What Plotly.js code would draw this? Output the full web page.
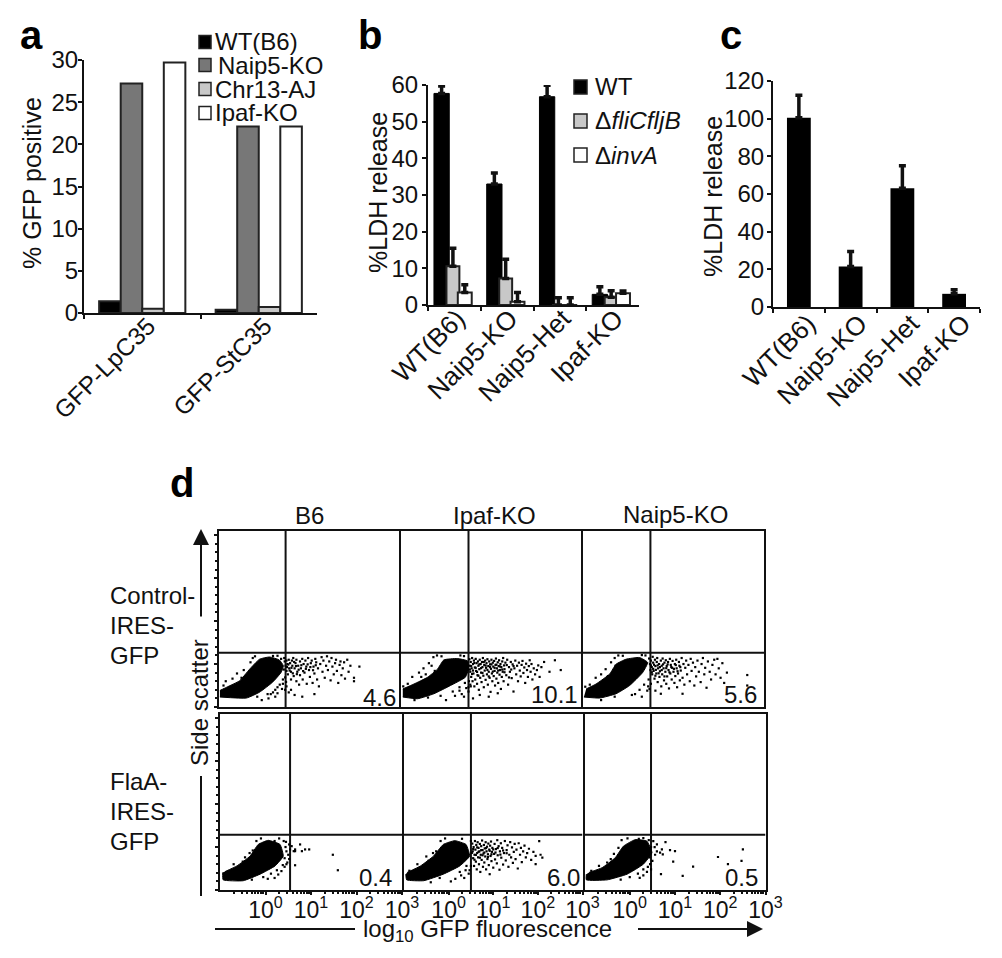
<!DOCTYPE html>
<html><head><meta charset="utf-8">
<script src="https://cdn.plot.ly/plotly-3.0.1.min.js"></script>
<style>html,body{margin:0;padding:0;background:#fff}</style></head>
<body><div id="chart" style="width:1002px;height:958px"></div>
<script>
// ---------- panel a ----------
const aCats = ['GFP-LpC35','GFP-StC35'];
const aNames = ['WT(B6)','Naip5-KO','Chr13-AJ','Ipaf-KO'];
const aWT = [1.4,0.4];
const aNaip = [27.2,22.1];
const aChr = [0.5,0.7];
const aIpaf = [29.7,22.1];
// ---------- panel b ----------
const bCats = ['WT(B6)','Naip5-KO','Naip5-Het','Ipaf-KO'];
const bWT = [57.7,33,56.8,2.9];
const bWTErr = [2,3,3.1,2.1];
const bFli = [10.6,7.2,0,2.1];
const bFliErr = [4.9,5.3,2,1.8];
const bInv = [3.4,0.9,0,3.2];
const bInvErr = [2.1,2.5,2,0.6];
// ---------- panel c ----------
const cCats = ['WT(B6)','Naip5-KO','Naip5-Het','Ipaf-KO'];
const cVals = [100.5,21.5,63,7];
const cErr = [12,8,12,2.2];
// ---------- panel d: x = log10 GFP, y = side scatter; blob = outline of the solid population ----------
const dTickLabels = ['10<sup>0</sup>','10<sup>1</sup>','10<sup>2</sup>','10<sup>3</sup>'];
const dPercents = ['4.6','10.1','5.6','0.4','6.0','0.5'];
const dColumns = ['B6','Ipaf-KO','Naip5-KO'];
const gateX = [0.48,0.50,0.49,0.54,0.50,0.47];
const gateY = [316,316,316,322,322,322];
const blobB6C = [[-.98,58],[-.39,52],[-.1,86],[.19,144],[.38,201],[.43,240],[.34,274],[.12,291],[-.1,278],[-.32,220],[-.54,153],[-.83,115],[-.98,96]];
const blobIpC = [[-.96,58],[-.63,48],[-.27,77],[.1,125],[.43,173],[.5,220],[.48,268],[.25,282],[-.05,274],[-.19,220],[-.41,173],[-.71,134],[-.96,105]];
const blobNaC = [[-.98,58],[-.63,52],[-.27,77],[.03,125],[.32,201],[.43,259],[.25,288],[-.05,278],[-.27,249],[-.41,192],[-.71,134],[-.93,105]];
const blobB6F = [[-.94,102],[-.93,59],[-.49,54],[-.12,92],[.21,140],[.39,197],[.32,265],[.06,289],[-.16,265],[-.34,197],[-.63,140],[-.89,107]];
const blobIpF = [[-.96,92],[-.94,59],[-.56,54],[-.12,92],[.25,140],[.47,197],[.39,265],[.14,287],[-.12,265],[-.34,197],[-.63,140],[-.93,102]];
const blobNaF = [[-.96,92],[-.96,59],[-.5,59],[-.06,92],[.3,150],[.49,217],[.38,284],[.12,293],[-.14,255],[-.32,188],[-.61,130],[-.9,102]];
const dotsB6C = [[.46,265],[.48,240],[.5,270],[.5,210],[.52,250],[.53,190],[.55,275],[.56,225],[.58,255],[.6,205],[.6,160],[.62,270],[.63,240],[.65,285],[.66,180],[.68,225],[.7,255],[.72,275],[.72,150],[.74,205],[.76,240],[.78,130],[.8,265],[.8,185],[.82,225],[.85,280],[.86,160],[.88,250],[.9,200],[.92,270],[.94,235],[.95,135],[.98,285],[1,215],[1.02,175],[1.04,255],[1.06,270],[1.08,140],[1.1,235],[1.12,195],[1.14,280],[1.16,260],[1.18,160],[1.2,225],[1.22,120],[1.25,250],[1.28,290],[1.3,205],[1.32,270],[1.35,170],[1.38,240],[1.4,295],[1.42,215],[1.45,265],[1.48,155],[1.5,285],[1.52,235],[1.55,190],[1.58,255],[1.6,275],[1.62,210],[1.65,140],[1.68,245],[1.7,265],[1.72,185],[1.75,225],[1.78,260],[1.8,165],[1.85,275],[1.88,205],[1.92,240],[.55,85],[.68,70],[.85,60],[1.12,75],[2.12,235],[2,170],[2,150],[.5,120],[.47,100],[.6,100],[-.6,195],[-.45,215],[-.3,260],[-.25,285],[-.2,295],[-.15,240],[-.7,165],[-.85,150],[.1,50],[.15,75],[.25,100],[.3,80],[.35,130],[.4,105],[.42,160],[.25,60],[-.05,40],[-.9,125],
  [.51,232],[.54,247],[.57,212],[.61,228],[.64,196],[.67,262],[.71,238],[.73,191],[.77,217],[.83,243],[.87,209],[.93,222],[.97,248],[1.03,232],[1.09,214],[1.15,243],[.44,218],[.47,172],[.49,146],[.45,285],[.3,298],[.38,280],[.2,297],[-.35,180],[-.2,215],[-.5,170],[-.4,165],[.42,135],[.3,115],[.2,85],[.08,75],[-.15,60],[-.3,70]];
const dotsIpC = [[.52,278],[.53,240],[.54,205],[.55,262],[.56,175],[.57,225],[.58,285],[.59,150],[.6,250],[.61,195],[.62,270],[.63,120],[.64,230],[.65,160],[.66,280],[.67,210],[.68,255],[.69,135],[.7,185],[.71,265],[.72,240],[.73,100],[.74,220],[.75,275],[.76,170],[.77,250],[.78,200],[.79,145],[.8,262],[.81,232],[.82,285],[.83,182],[.84,115],[.85,245],[.86,212],[.87,270],[.88,158],[.89,228],[.9,255],[.91,190],[.92,278],[.93,130],[.94,238],[.95,205],[.96,265],[.97,170],[.98,248],[.99,88],[1,222],[1.01,275],[1.02,195],[1.03,150],[1.04,258],[1.05,235],[1.06,180],[1.07,268],[1.08,210],[1.09,125],[1.1,245],[1.11,282],[1.12,165],[1.13,225],[1.14,200],[1.15,260],[1.16,140],[1.17,238],[1.18,272],[1.19,188],[1.2,215],[1.21,250],[1.22,105],[1.23,232],[1.24,175],[1.25,265],[1.26,205],[1.27,285],[1.28,150],[1.29,242],[1.3,220],[1.32,258],[1.34,185],[1.36,275],[1.38,130],[1.4,232],[1.42,205],[1.44,262],[1.46,168],[1.48,248],[1.5,90],[1.52,225],[1.54,270],[1.56,190],[1.58,240],[1.6,150],[1.62,258],[1.64,212],[1.66,178],[1.68,245],[1.7,268],[1.72,198],[1.74,230],[1.76,140],[1.78,252],[1.8,215],[1.82,175],[1.84,238],[1.86,272],[1.88,205],[1.9,250],[1.92,160],[1.95,225],[1.98,190],[2.02,215],[2.05,242],[2.08,175],[2.12,232],[2.18,262],[2.3,205],[2.42,272],[2.55,215],[-.75,175],[-.6,200],[-.5,225],[-.38,255],[-.28,290],[-.2,300],[-.1,295],[-.32,240],[-.45,190],[-.85,135],[-.95,120],[.2,65],[.3,95],[.35,75],[.45,110],[.4,60],[.5,90],[.55,120],[0,40],[.6,50],[.75,70],[.95,60],[1.15,80],
  [.53,218],[.56,238],[.58,192],[.6,212],[.63,256],[.66,228],[.69,204],[.72,182],[.74,248],[.78,226],[.81,198],[.84,262],[.88,241],[.92,216],[.95,178],[.98,232],[1.01,248],[1.04,206],[1.08,228],[1.12,246],[1.16,212],[1.2,236],[1.25,218],[1.3,202],[1.35,244],[1.4,172],[1.45,218],[1.5,238],[.51,150],[.54,130],[.5,115],[.42,140],[.3,115],[.15,90],[.4,296],[.32,300],[-.25,210],[-.55,175],[-.12,65],[-.4,55],[-.7,40]];
const dotsNaC = [[.46,282],[.48,250],[.49,215],[.5,270],[.52,232],[.53,190],[.54,292],[.55,258],[.56,210],[.58,165],[.59,275],[.6,238],[.62,195],[.63,262],[.64,285],[.65,145],[.66,225],[.68,250],[.69,175],[.7,208],[.72,270],[.73,120],[.74,240],[.75,190],[.76,282],[.78,225],[.79,155],[.8,258],[.82,205],[.83,272],[.84,135],[.85,238],[.86,178],[.88,262],[.89,215],[.9,108],[.92,280],[.93,195],[.94,245],[.96,160],[.97,228],[.98,268],[1,205],[1.02,140],[1.03,250],[1.04,180],[1.06,275],[1.07,225],[1.08,115],[1.1,195],[1.12,262],[1.13,240],[1.14,155],[1.16,212],[1.18,285],[1.2,170],[1.22,250],[1.24,130],[1.26,228],[1.28,270],[1.3,190],[1.33,245],[1.36,150],[1.38,280],[1.4,210],[1.43,258],[1.46,125],[1.48,232],[1.5,178],[1.53,270],[1.56,205],[1.6,145],[1.62,250],[1.65,285],[1.68,190],[1.7,228],[1.73,112],[1.76,265],[1.8,205],[1.83,160],[1.86,245],[1.9,275],[1.93,190],[1.97,280],[2,225],[2.04,170],[2.08,255],[2.12,140],[2.18,200],[2.63,186],[2.63,125],[1.2,77],[.72,77],[.6,95],[-.72,170],[-.6,190],[-.5,220],[-.38,260],[-.3,285],[-.22,300],[-.12,298],[-.28,240],[-.45,180],[-.85,130],[-.95,118],[.15,75],[.25,100],[.35,130],[.42,95],[.3,60],[.45,160],
  [.5,242],[.52,202],[.55,222],[.57,246],[.6,182],[.61,216],[.65,242],[.67,196],[.7,232],[.74,215],[.77,248],[.8,178],[.84,226],[.87,248],[.91,202],[.95,232],[1.01,222],[1.05,244],[1.09,208],[1.15,232],[.5,135],[.47,105],[.44,120],[.38,300],[.3,302],[-.2,205],[-.55,155],[-.3,60],[-.6,40],[.08,70]];
const dotsB6F = [[.575,255],[.65,236],[.76,265],[.87,236],[.96,236],[.65,226],[.65,144],[1.48,205],[1.59,115],[.54,236],[.62,226],[.8,226],[.45,280],[.5,205],[.48,160],[.42,135],[.35,110],[.28,90],[.2,70],[.05,65],[-.28,230],[-.2,285],[-.1,300],[.3,300],[.44,250],[-.45,190],[-.7,150],[.52,180],[.46,225],[.42,185],[.46,150],[.38,145],[.25,115],[.12,95],[-.05,75],[-.3,60],[.2,285],[.4,285],[-.5,165],[-.35,215],[-.25,200],[.52,265]];
const dotsIpF = [[.53,270],[.54,225],[.55,185],[.56,250],[.57,140],[.58,205],[.59,285],[.6,235],[.61,165],[.62,262],[.63,120],[.64,215],[.65,278],[.66,190],[.67,245],[.68,150],[.69,225],[.7,268],[.71,105],[.72,205],[.73,255],[.74,175],[.75,288],[.76,232],[.77,135],[.78,212],[.79,262],[.8,160],[.81,242],[.82,195],[.83,278],[.84,120],[.85,225],[.86,252],[.87,180],[.88,208],[.89,270],[.9,145],[.91,235],[.92,92],[.93,258],[.94,198],[.95,282],[.96,168],[.97,222],[.98,245],[1,130],[1.02,210],[1.03,268],[1.04,178],[1.06,238],[1.08,155],[1.09,290],[1.1,202],[1.12,255],[1.14,118],[1.15,225],[1.17,272],[1.18,188],[1.2,245],[1.22,148],[1.24,215],[1.26,285],[1.28,172],[1.3,232],[1.32,260],[1.34,135],[1.36,205],[1.38,278],[1.4,190],[1.42,248],[1.44,158],[1.46,222],[1.48,268],[1.5,180],[1.52,235],[1.55,125],[1.57,272],[1.6,205],[1.62,245],[1.64,162],[1.67,225],[1.7,258],[1.73,190],[1.76,215],[1.8,240],[1.85,175],[1.9,222],[1.95,198],[2.03,284],[2.06,205],[2.1,188],[1.95,150],[-.28,225],[-.18,285],[-.08,300],[.3,298],[.5,285],[.15,65],[.28,85],[.38,115],[.45,95],[.35,70],[-.7,150],[-.5,195],[-.88,112],[.05,50],
  [.52,216],[.55,238],[.58,176],[.61,204],[.64,248],[.67,222],[.7,188],[.73,232],[.76,202],[.8,218],[.84,244],[.88,192],[.92,228],[.96,208],[1,236],[1.05,218],[1.1,244],[1.16,206],[1.22,230],[1.3,214],[.5,140],[.47,115],[.4,140],[.25,105],[-.35,215],[-.25,190],[-.45,170],[-.2,70],[-.4,45]];
const dotsNaF = [[.52,284],[.6,265],[.71,236],[.79,278],[.89,232],[1,226],[.73,207],[.67,217],[.96,165],[.69,92],[1.17,82],[1.4,136],[1.95,192],[2.17,150],[2.47,169],[2.5,236],[.55,250],[.56,205],[.6,225],[.5,170],[.47,120],[.38,105],[.3,85],[.22,70],[-.25,245],[-.18,290],[-.05,300],[.3,302],[-.42,180],[-.68,140],[-.85,112],[.47,250],[.44,190],[.45,150],[.4,135],[.3,120],[.18,95],[0,75],[.42,290],[.2,298],[-.35,210],[-.5,160],[-.2,60]];
const blobs = [blobB6C,blobIpC,blobNaC,blobB6F,blobIpF,blobNaF];
const dots = [dotsB6C,dotsIpC,dotsNaC,dotsB6F,dotsIpF,dotsNaF];

// ---------- layout helpers (page pixels to paper fractions) ----------
const W = 1002, H = 958, FONT = '"Liberation Sans", Arial, sans-serif', INK = '#111';
const xd = (a,b) => [a/W,b/W], yd = (t,b) => [1-b/H,1-t/H];
const ann = [], shp = [];
function txt(text,x,y,size,opt={}){
  ann.push(Object.assign({text,xref:'paper',yref:'paper',x:x/W,y:1-y/H,showarrow:false,xanchor:'center',yanchor:'middle',
    borderpad:0,borderwidth:0,font:{family:FONT,size,color:INK}},opt));
}
function seg(x0,y0,x1,y1){shp.push({type:'line',xref:'paper',yref:'paper',x0:x0/W,x1:x1/W,y0:1-y0/H,y1:1-y1/H,line:{color:INK,width:2}});}
function swatch(x0,y0,x1,y1,fill){shp.push({type:'rect',xref:'paper',yref:'paper',x0:x0/W,x1:x1/W,y0:1-y0/H,y1:1-y1/H,fillcolor:fill,line:{color:'#222',width:1.5}});}
function arrow(x,y,tx,ty){ann.push({xref:'paper',yref:'paper',x:x/W,y:1-y/H,axref:'pixel',ayref:'pixel',ax:tx-x,ay:ty-y,text:' ',showarrow:true,arrowhead:2,arrowsize:1.6,arrowwidth:2,arrowcolor:INK});}

const barYaxis = (dom,range,dtick,shift) => ({domain:dom,range,dtick,tick0:0,showgrid:false,zeroline:false,
  showline:true,linecolor:INK,linewidth:2,ticks:'outside',ticklen:4,tickwidth:2,tickcolor:INK,ticklabelstandoff:shift,
  tickfont:{family:FONT,size:24,color:INK},automargin:false});
const barXaxis = (dom,shift,off,size) => ({domain:dom,type:'category',showgrid:false,zeroline:false,showline:true,linecolor:INK,linewidth:2,
  ticks:'outside',ticklen:4,tickwidth:2,tickcolor:INK,tickson:'boundaries',tickangle:-45,ticklabelshift:shift,ticklabelstandoff:off,
  tickfont:{family:FONT,size,color:INK},automargin:false});

const layout = {width:W,height:H,autosize:false,margin:{l:0,r:0,t:0,b:0,pad:0},paper_bgcolor:'#fff',plot_bgcolor:'rgba(0,0,0,0)',
  showlegend:false,barmode:'group',bargap:0.26,bargroupgap:0,font:{family:FONT,color:INK}};
layout.xaxis = barXaxis(xd(84,317),6,-13,24.5); layout.xaxis.anchor='y';
layout.yaxis = barYaxis(yd(60,313),[0,30],5,-5); layout.yaxis.anchor='x';
layout.xaxis2 = barXaxis(xd(428,639),3,-14,26); layout.xaxis2.anchor='y2';
layout.yaxis2 = barYaxis(yd(85,305),[0,60],10,-1); layout.yaxis2.anchor='x2';
layout.xaxis3 = barXaxis(xd(773,980),9,-11,26); layout.xaxis3.anchor='y3';
layout.yaxis3 = barYaxis(yd(81,307),[0,120],20,-2); layout.yaxis3.anchor='x3';
txt('% GFP positive',32,183,25,{textangle:-90});
txt('%LDH release',378,193,25,{textangle:-90});
txt('%LDH release',713,197,25,{textangle:-90});

const traces = [];
const zeros = n => new Array(n).fill(0);
[[aWT,'#000'],[aNaip,'#777'],[aChr,'#c8c8c8'],[aIpaf,'#fff']].forEach(([v,c],i)=>traces.push({type:'bar',name:aNames[i],x:aCats,y:v,
  marker:{color:c,line:{color:'#222',width:2}},xaxis:'x',yaxis:'y',hoverinfo:'skip'}));
const eb = (arr,t) => ({type:'data',symmetric:false,array:arr,arrayminus:zeros(arr.length),thickness:t,width:3.5,color:'#111'});
traces.push({type:'bar',name:'WT',x:bCats,y:bWT,offset:-0.387,width:0.29,marker:{color:'#000',line:{color:'#000',width:1}},error_y:eb(bWTErr,3.5),xaxis:'x2',yaxis:'y2'});
traces.push({type:'bar',name:'fliCfljB',x:bCats,y:bFli,offset:-0.15,width:0.245,marker:{color:'#c8c8c8',line:{color:'#222',width:2}},error_y:eb(bFliErr,3.5),xaxis:'x2',yaxis:'y2'});
traces.push({type:'bar',name:'invA',x:bCats,y:bInv,offset:0.065,width:0.264,marker:{color:'#fff',line:{color:'#222',width:2}},error_y:eb(bInvErr,3.5),xaxis:'x2',yaxis:'y2'});
traces.push({type:'bar',name:'LDH',x:cCats,y:cVals,width:0.46,marker:{color:'#000'},error_y:eb(cErr,3.5),xaxis:'x3',yaxis:'y3'});

// ---------- flow panels ----------
const panels = [[219,399,531,707],[401,581,531,707],[583,764,531,707],[220,402,714,890],[404,582.5,714,890],[584.5,765.5,714,890]];
const log = Math.log10;
const minorX = [-1,0,1,2].flatMap(d=>[2,3,4,5,6,7,8,9].map(k=>d+log(k)));
panels.forEach((p,i)=>{
  const n = i+4, bottom = i>=3, left = i%3===0;
  layout['xaxis'+n] = {domain:xd(p[0],p[1]),range:[-1,3],anchor:'y'+n,showgrid:false,zeroline:false,showline:true,mirror:true,linecolor:INK,linewidth:2,
    ticks:bottom?'outside':'',ticklen:3,tickwidth:2,tickcolor:INK,showticklabels:bottom,tickmode:'array',tickvals:[0,1,2,3],ticktext:dTickLabels,
    ticklabelstandoff:bottom?-5:0,tickfont:{family:FONT,size:23,color:INK},automargin:false,
    minor:bottom?{ticks:'outside',ticklen:2,tickwidth:2,tickcolor:INK,tickmode:'array',tickvals:minorX,showgrid:false}:undefined};
  layout['yaxis'+n] = {domain:yd(p[2],p[3]),range:[0,1024],anchor:'x'+n,showgrid:false,zeroline:false,showline:true,mirror:true,linecolor:INK,linewidth:2,
    ticks:left?'outside':'',ticklen:3,tickwidth:2,tickcolor:INK,showticklabels:false,dtick:250,tick0:0,automargin:false,
    minor:left?{ticks:'outside',ticklen:2,tickwidth:2,tickcolor:INK,dtick:50,tick0:0,showgrid:false}:undefined};
  const common = {type:'scatter',xaxis:'x'+n,yaxis:'y'+n,hoverinfo:'skip',cliponaxis:true};
  traces.push(Object.assign({},common,{mode:'lines',x:[gateX[i],gateX[i]],y:[0,1024],line:{color:INK,width:2}}));
  traces.push(Object.assign({},common,{mode:'lines',x:[-1,3],y:[gateY[i],gateY[i]],line:{color:INK,width:2}}));
  traces.push(Object.assign({},common,{mode:'lines',x:blobs[i].map(d=>d[0]),y:blobs[i].map(d=>d[1]),fill:'toself',fillcolor:'#000',line:{color:'#000',width:1,shape:'spline',smoothing:0.4}}));
  traces.push(Object.assign({},common,{mode:'markers',x:dots[i].map(d=>d[0]),y:dots[i].map(d=>d[1]),marker:{color:'#000',size:2.2,symbol:'square'}}));
});

// ---------- text ----------
const boldFont = {family:FONT,size:40,color:'#000',weight:700};
txt('a',31,35,40,{font:boldFont});
txt('b',370,35,40,{font:boldFont});
txt('c',731,35,40,{font:boldFont});
txt('d',182,483,40,{font:boldFont});
// legend a
[[42,215,'#000'],[65,218,'#777'],[89,215,'#c8c8c8'],[113,215,'#fff']].forEach(([y,tx,c],i)=>{swatch(199,y-6.5,211,y+6.5,c);txt(aNames[i],tx,y,24,{xanchor:'left'});});
// legend b
swatch(574,80,587,94,'#000');swatch(574,114,587,128,'#c8c8c8');swatch(574,148,587,162,'#fff');
txt('WT',595,87,24,{xanchor:'left'});
txt('Δ<i>fliCfljB</i>',595,121,24.5,{xanchor:'left'});
txt('Δ<i>invA</i>',595,155,24,{xanchor:'left'});
// flow text
txt(dColumns[0],309,515,24);txt(dColumns[1],494,515,24);txt(dColumns[2],675,514,24);
[[396,697],[578,694],[757,694],[392,877],[580,877],[758,877]].forEach(([x,y],i)=>txt(dPercents[i],x,y,24,{xanchor:'right'}));
['Control-','IRES-','GFP'].forEach((t,i)=>txt(t,110,595+i*30,24,{xanchor:'left'}));
['FlaA-','IRES-','GFP'].forEach((t,i)=>txt(t,110,781+i*30,24,{xanchor:'left'}));
txt('Side scatter',199,703,24,{textangle:-90});
txt('log<sub>10</sub> GFP fluorescence',487,930,24);
seg(201,776,201,896);seg(215,929,355,929);
arrow(201,529,201,625);arrow(763,929,635,929);
layout.annotations = ann; layout.shapes = shp;
Plotly.newPlot('chart',traces,layout,{staticPlot:true,displayModeBar:false});
</script></body></html>
